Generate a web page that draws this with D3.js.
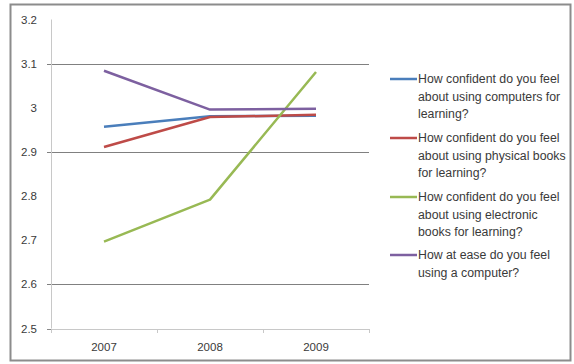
<!DOCTYPE html>
<html><head><meta charset="utf-8">
<script src="https://cdn.jsdelivr.net/npm/d3@7"></script>
<style>body{margin:0;background:#fff;}svg{display:block;}</style>
</head><body>
<script>
const categories = ["2007", "2008", "2009"];
const seriesNames = [
  "How confident do you feel about using computers for learning?",
  "How confident do you feel about using physical books for learning?",
  "How confident do you feel about using electronic books for learning?",
  "How at ease do you feel using a computer?"
];
const computers = [2.957, 2.981, 2.982];
const physicalBooks = [2.911, 2.979, 2.984];
const electronicBooks = [2.697, 2.792, 3.081];
const atEase = [3.084, 2.996, 2.998];
const seriesColors = ["#4a7ebb", "#be4b48", "#98b954", "#7d60a0"];
const yTicks = [2.5, 2.6, 2.7, 2.8, 2.9, 3.0, 3.1, 3.2];
const gridValues = [2.6, 2.9, 3.1];

const series = [computers, physicalBooks, electronicBooks, atEase];
const W = 574, H = 364;
const svg = d3.select("body").append("svg").attr("width", W).attr("height", H);
svg.append("rect").attr("x", 10.5).attr("y", 4.5).attr("width", 560).attr("height", 356)
  .attr("fill", "#fff").attr("stroke", "#8c8c8c").attr("stroke-width", 2);

const x0 = 51, x1 = 369;
const x = d3.scaleBand().domain(categories).range([x0, x1]);
const y = d3.scaleLinear().domain([2.5, 3.2]).range([328.5, 19.5]);
const font = "'Liberation Sans', Arial, sans-serif";
const textColor = "#3a3a3a";

// gridlines
svg.append("g").selectAll("line").data(gridValues).join("line")
  .attr("x1", x0 - 4).attr("x2", x1)
  .attr("y1", d => Math.round(y(d)) + 0.5).attr("y2", d => Math.round(y(d)) + 0.5)
  .attr("stroke", "#808080").attr("stroke-width", 1);

// y axis line
svg.append("line").attr("x1", x0 + 0.5).attr("x2", x0 + 0.5).attr("y1", y(3.2)).attr("y2", y(2.5))
  .attr("stroke", "#c8c8c8").attr("stroke-width", 1);
// x axis line
svg.append("line").attr("x1", x0).attr("x2", x1).attr("y1", Math.round(y(2.5)) + 0.5).attr("y2", Math.round(y(2.5)) + 0.5)
  .attr("stroke", "#c8c8c8").attr("stroke-width", 1);
// x ticks
const xTickPos = categories.map(c => x(c)).concat([x1]);
svg.append("g").selectAll("line").data(xTickPos).join("line")
  .attr("x1", d => Math.round(d) + 0.5).attr("x2", d => Math.round(d) + 0.5)
  .attr("y1", Math.round(y(2.5))).attr("y2", Math.round(y(2.5)) + 4)
  .attr("stroke", "#c8c8c8");
// y tick mark at 2.5
svg.append("line").attr("x1", x0 - 4).attr("x2", x0).attr("y1", Math.round(y(2.5)) + 0.5).attr("y2", Math.round(y(2.5)) + 0.5)
  .attr("stroke", "#8a8a8a");

// y labels
svg.append("g").selectAll("text").data(yTicks).join("text")
  .attr("x", 37).attr("y", d => y(d) + 4).attr("text-anchor", "end")
  .attr("font-family", font).attr("font-size", 11.5).attr("fill", textColor)
  .text(d => d === 3 ? "3" : d3.format(".1f")(d));
// x labels
svg.append("g").selectAll("text").data(categories).join("text")
  .attr("x", d => x(d) + x.bandwidth() / 2).attr("y", 351).attr("text-anchor", "middle")
  .attr("font-family", font).attr("font-size", 11.5).attr("fill", textColor)
  .text(d => d);

// lines
const line = d3.line().x((d, i) => x(categories[i]) + x.bandwidth() / 2).y(d => y(d));
svg.append("g").selectAll("path").data(series).join("path")
  .attr("d", d => line(d)).attr("fill", "none")
  .attr("stroke", (d, i) => seriesColors[i]).attr("stroke-width", 2.5)
  .attr("stroke-linejoin", "round");

// legend
const legendWrapped = [
  ["How confident do you feel", "about using computers for", "learning?"],
  ["How confident do you feel", "about using physical books", "for learning?"],
  ["How confident do you feel", "about using electronic", "books for learning?"],
  ["How at ease do you feel", "using a computer?"]
];
const legendTops = [79, 138, 197, 255];
const lg = svg.append("g");
legendWrapped.forEach((lines, i) => {
  lg.append("line").attr("x1", 390).attr("x2", 417).attr("y1", legendTops[i]).attr("y2", legendTops[i])
    .attr("stroke", seriesColors[i]).attr("stroke-width", 2.5);
  const t = lg.append("text").attr("font-family", font).attr("font-size", 12.3).attr("fill", textColor);
  lines.forEach((s, j) => {
    t.append("tspan").attr("x", 418).attr("y", legendTops[i] + 4 + j * 17.5).text(s);
  });
});
</script>
</body></html>
